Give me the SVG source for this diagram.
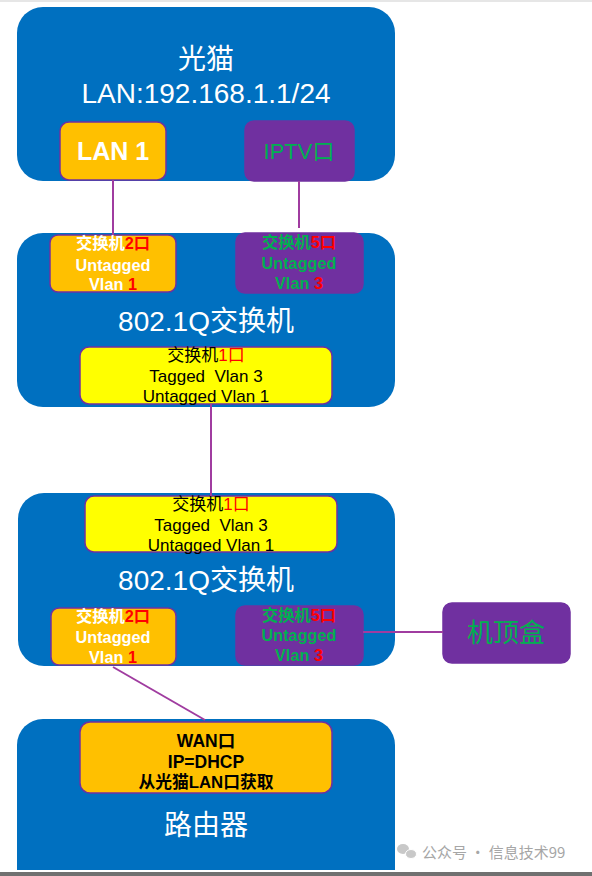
<svg xmlns="http://www.w3.org/2000/svg" width="592" height="876" viewBox="0 0 592 876">
<style>
.dev{fill:#0070C0}
.org{fill:#FFC000;stroke:#7030A0;stroke-width:1.5}
.pur{fill:#7030A0;stroke:#7030A0;stroke-width:1.5}
.yel{fill:#FFFF00;stroke:#7030A0;stroke-width:1.5}
.t{font-family:"Liberation Sans","Noto Sans CJK SC",sans-serif;text-anchor:middle}
.wm{font-family:"Noto Sans CJK SC","Liberation Sans",sans-serif;font-size:15px;fill:#a6a6a6}
.big{font-size:28px;fill:#fff}
.pb{font-size:16.3px;font-weight:bold}
.pn{font-size:17px;fill:#000}
.w{fill:#fff}.g{fill:#00B050}.r{fill:#FF0000}.k{fill:#000}
.conn line{stroke:#A03CA0;stroke-width:2}
</style>
<rect x="0" y="0" width="592" height="2" fill="#e6e6e6"/>
<g id="modem">
<rect class="dev" x="17" y="7" width="378" height="174" rx="26"/>
<text class="t big" x="206" y="69">光猫</text>
<text class="t big" x="206" y="103">LAN:192.168.1.1/24</text>
</g>
<g id="modem-lan1">
<rect class="org" x="60" y="122" width="106" height="58" rx="9"/>
<text class="t w" x="113" y="160" font-size="25" font-weight="bold">LAN 1</text>
</g>
<g id="modem-iptv">
<rect class="pur" x="245" y="121" width="109" height="60" rx="9"/>
<text class="t g" x="299" y="159" font-size="22">IPTV口</text>
</g>
<g id="switch1">
<rect class="dev" x="17" y="233" width="378" height="174" rx="26"/>
<text class="t big" x="206" y="331" font-size="28.5">802.1Q交换机</text>
</g>
<g id="sw1-port2">
<rect class="org" x="50" y="235" width="126" height="57" rx="8"/>
<text class="t pb" x="113" y="249"><tspan class="w">交换机</tspan><tspan class="r">2口</tspan></text>
<text class="t pb w" x="113" y="271">Untagged</text>
<text class="t pb" x="113" y="290"><tspan class="w">Vlan </tspan><tspan class="r">1</tspan></text>
</g>
<g id="sw1-port5">
<rect class="pur" x="236" y="233" width="127" height="60" rx="9"/>
<text class="t pb" x="299" y="248" font-size="17"><tspan class="g">交换机</tspan><tspan class="r">5口</tspan></text>
<text class="t pb g" x="299" y="269">Untagged</text>
<text class="t pb" x="299" y="289"><tspan class="g">Vlan </tspan><tspan class="r">3</tspan></text>
</g>
<g id="sw1-port1">
<rect class="yel" x="80" y="347" width="252" height="57" rx="9"/>
<text class="t pn" x="206" y="361"><tspan class="k">交换机</tspan><tspan class="r">1口</tspan></text>
<text class="t pn" x="206" y="382" xml:space="preserve">Tagged  Vlan 3</text>
<text class="t pn" x="206" y="402">Untagged Vlan 1</text>
</g>
<g id="switch2">
<rect class="dev" x="18" y="493" width="377" height="173" rx="26"/>
<text class="t big" x="206" y="590" font-size="28.5">802.1Q交换机</text>
</g>
<g id="sw2-port1">
<rect class="yel" x="85" y="496" width="252" height="56" rx="9"/>
<text class="t pn" x="211" y="510"><tspan class="k">交换机</tspan><tspan class="r">1口</tspan></text>
<text class="t pn" x="211" y="531" xml:space="preserve">Tagged  Vlan 3</text>
<text class="t pn" x="211" y="551">Untagged Vlan 1</text>
</g>
<g id="sw2-port2">
<rect class="org" x="51" y="608" width="125" height="57" rx="8"/>
<text class="t pb" x="113" y="622"><tspan class="w">交换机</tspan><tspan class="r">2口</tspan></text>
<text class="t pb w" x="113" y="643">Untagged</text>
<text class="t pb" x="113" y="663"><tspan class="w">Vlan </tspan><tspan class="r">1</tspan></text>
</g>
<g id="sw2-port5">
<rect class="pur" x="236" y="606" width="127" height="59" rx="9"/>
<text class="t pb" x="299" y="621"><tspan class="g">交换机</tspan><tspan class="r">5口</tspan></text>
<text class="t pb g" x="299" y="641">Untagged</text>
<text class="t pb" x="299" y="661"><tspan class="g">Vlan </tspan><tspan class="r">3</tspan></text>
</g>
<g id="stb">
<rect class="pur" x="443" y="603" width="127" height="60" rx="9"/>
<text class="t g" x="506" y="642" font-size="26">机顶盒</text>
</g>
<g id="router">
<path class="dev" d="M17 745 A26 26 0 0 1 43 719 L369 719 A26 26 0 0 1 395 745 L395 870 L17 870 Z"/>
<text class="t big" x="206" y="835" font-size="29.5">路由器</text>
</g>
<g id="router-wan">
<rect class="org" x="80" y="722" width="252" height="71" rx="10"/>
<text class="t k" x="206" y="747" font-size="17.5" font-weight="bold">WAN口</text>
<text class="t k" x="206" y="768" font-size="17.5" font-weight="bold">IP=DHCP</text>
<text class="t k" x="206" y="788" font-size="16.8" font-weight="bold">从光猫LAN口获取</text>
</g>
<g id="connectors" class="conn">
<line x1="113" y1="180" x2="113" y2="235"/>
<line x1="299" y1="181" x2="299" y2="228"/>
<line x1="211" y1="404" x2="211" y2="496"/>
<line x1="363" y1="632" x2="443" y2="632"/>
<line x1="113" y1="667" x2="205" y2="720"/>
</g>
<g id="watermark">
<ellipse cx="403" cy="849" rx="6" ry="5" fill="#c8c8c8"/>
<ellipse cx="411" cy="854" rx="5.5" ry="4.5" fill="#c8c8c8" stroke="#fff" stroke-width="1"/>
<text class="wm" x="422" y="858">公众号 · 信息技术99</text>
</g>
<rect x="0" y="872" width="592" height="4" fill="#707070"/>
</svg>
